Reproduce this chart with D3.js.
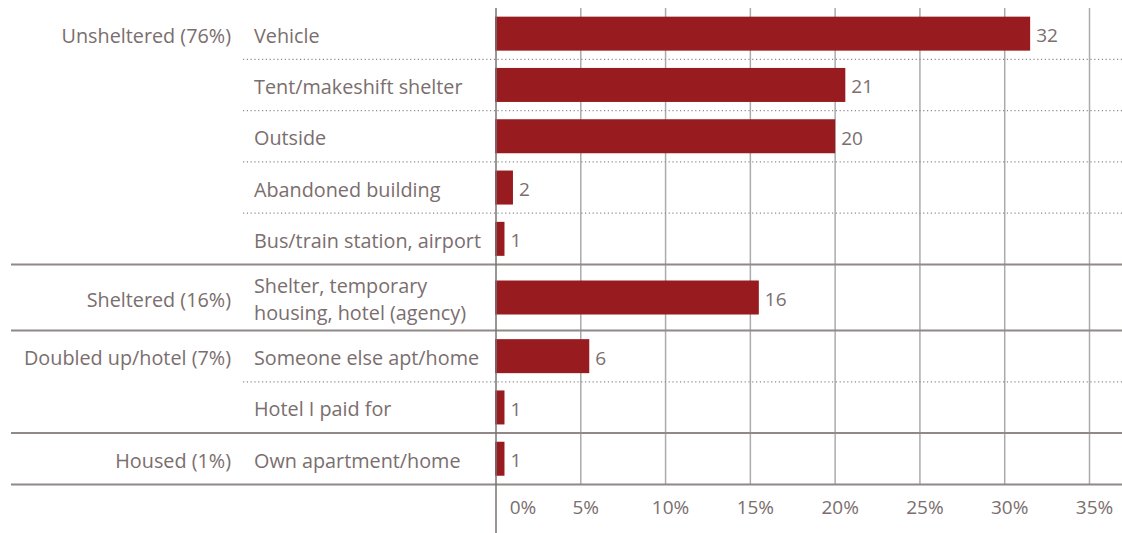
<!DOCTYPE html>
<html>
<head>
<meta charset="utf-8">
<script src="https://cdn.jsdelivr.net/npm/d3@7"></script>
<style>
  body { margin: 0; background: #fff; }
  svg text { font-family: "Open Sans", sans-serif; fill: #7a6e6e; }
</style>
</head>
<body>
<div id="chart"></div>
<script>
// DATA ------------------------------------------------------------
var categories = ["Vehicle", "Tent/makeshift shelter", "Outside", "Abandoned building",
    "Bus/train station, airport", "Shelter, temporary\nhousing, hotel (agency)",
    "Someone else apt/home", "Hotel I paid for", "Own apartment/home"];
var barValues = [31.5, 20.6, 20, 1, 0.5, 15.5, 5.5, 0.5, 0.5];
var valueLabels = ["32", "21", "20", "2", "1", "16", "6", "1", "1"];
var groupLabels = ["Unsheltered (76%)", "Sheltered (16%)", "Doubled up/hotel (7%)", "Housed (1%)"];
var groupSizes = [5, 1, 2, 1];
var xTicks = [0, 5, 10, 15, 20, 25, 30, 35];

// SIZES ------------------------------------------------------------
var width = 1122, height = 533;
var chartTop = 8, rowH = 51.3, rowH2 = 66, barH = 34;
var labelSize = "19.8px", numSize = "19px";
var colors = {
    bar: '#981b20',
    grid: '#ababab',
    axis: '#7a7272',
    rule: '#928888',
    dots: '#8c8c8c'
};

var svg = d3.select("#chart")
    .append("svg")
    .attr("width", width)
    .attr("height", height);

// row tops, two-line labels get a taller row
var rowTops = [], rowHeights = [], y0 = chartTop;
categories.forEach(function(c) {
    var h = c.indexOf("\n") >= 0 ? rowH2 : rowH;
    rowTops.push(y0);
    rowHeights.push(h);
    y0 += h;
});
var chartBottom = y0;

var yTop = d3.scaleOrdinal().domain(categories).range(rowTops);
var yH = d3.scaleOrdinal().domain(categories).range(rowHeights);
var yMid = function(c) { return yTop(c) + yH(c) / 2; };

var x = d3.scaleLinear().domain([0, 35]).range([496, 1089.5]);

// gridlines
svg.selectAll(".grid")
    .data(xTicks.slice(1))
    .enter()
    .append("line")
    .attr("x1", function(d) { return x(d); })
    .attr("x2", function(d) { return x(d); })
    .attr("y1", chartTop)
    .attr("y2", chartBottom)
    .style("stroke", colors.grid)
    .style("stroke-width", 1.5);

// separators: dotted inside a group, solid at group end
var groupEnds = [], acc = 0;
groupSizes.forEach(function(n) { acc += n; groupEnds.push(acc - 1); });

categories.forEach(function(c, i) {
    var yy = yTop(c) + yH(c);
    if (groupEnds.indexOf(i) >= 0) {
        svg.append("line")
            .attr("x1", 11).attr("x2", width)
            .attr("y1", yy).attr("y2", yy)
            .style("stroke", colors.rule)
            .style("stroke-width", 2);
    } else {
        svg.append("line")
            .attr("x1", 243).attr("x2", width)
            .attr("y1", yy).attr("y2", yy)
            .style("stroke", colors.dots)
            .style("stroke-width", 1.2)
            .style("stroke-dasharray", "1.2,2.6");
    }
});

// bars
svg.selectAll(".bar")
    .data(categories)
    .enter()
    .append("rect")
    .attr("x", x(0) - 1)
    .attr("y", function(d) { return yMid(d) - barH / 2; })
    .attr("width", function(d, i) { return x(barValues[i]) - x(0) + 1; })
    .attr("height", barH)
    .style("fill", colors.bar);

// zero axis line
svg.append("line")
    .attr("x1", x(0)).attr("x2", x(0))
    .attr("y1", chartTop).attr("y2", height)
    .style("stroke", colors.axis)
    .style("stroke-width", 1.5);

// value labels
svg.selectAll(".val")
    .data(categories)
    .enter()
    .append("text")
    .attr("x", function(d, i) { return x(barValues[i]) + 6; })
    .attr("y", function(d) { return yMid(d) + 1.5; })
    .attr("dominant-baseline", "central")
    .attr("font-size", numSize)
    .text(function(d, i) { return valueLabels[i]; });

// category labels
categories.forEach(function(c) {
    var lines = c.split("\n");
    var t = svg.append("text")
        .attr("x", 254)
        .attr("font-size", labelSize);
    lines.forEach(function(l, j) {
        t.append("tspan")
            .attr("x", 254)
            .attr("y", yMid(c) + 1.5 + (j - (lines.length - 1) / 2) * 27)
            .attr("dominant-baseline", "central")
            .text(l);
    });
});

// group labels, on the first row of each group
var start = 0;
groupLabels.forEach(function(g, k) {
    var c = categories[start];
    svg.append("text")
        .attr("x", 231)
        .attr("y", yMid(c) + 1.5)
        .attr("text-anchor", "end")
        .attr("dominant-baseline", "central")
        .attr("font-size", labelSize)
        .text(g);
    start += groupSizes[k];
});

// x tick labels
svg.selectAll(".tick")
    .data(xTicks)
    .enter()
    .append("text")
    .attr("x", function(d) { return d === 0 ? x(d) + 27 : x(d) + 5; })
    .attr("y", 507)
    .attr("text-anchor", "middle")
    .attr("dominant-baseline", "central")
    .attr("font-size", numSize)
    .text(function(d) { return d + "%"; });
</script>
</body>
</html>
